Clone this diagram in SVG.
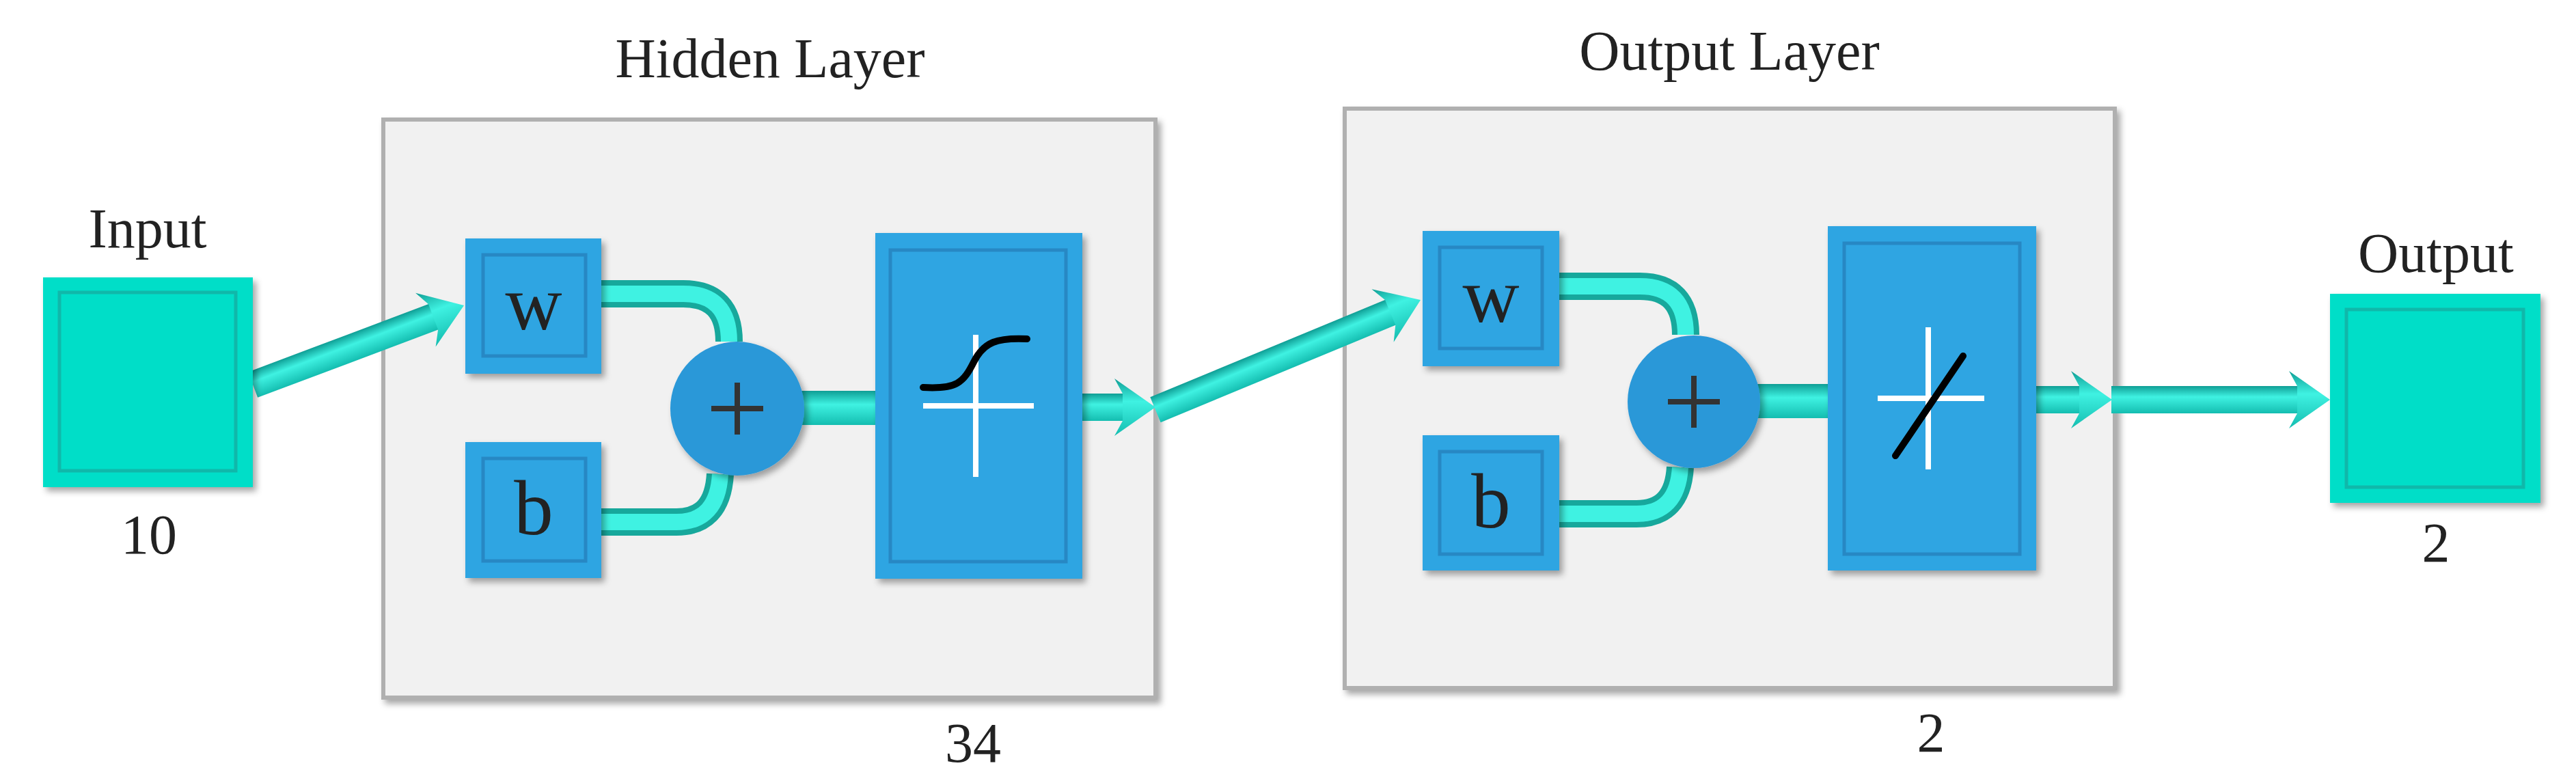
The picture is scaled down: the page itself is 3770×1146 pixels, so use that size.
<svg xmlns="http://www.w3.org/2000/svg" width="3770" height="1146" viewBox="0 0 3770 1146">
<defs>
<linearGradient id="shaft" x1="0" y1="0" x2="0" y2="1"><stop offset="0" stop-color="#0f9e95"/><stop offset="0.4" stop-color="#3ff2e2"/><stop offset="1" stop-color="#14bdb0"/></linearGradient>
<filter id="sh" x="-5%" y="-5%" width="115%" height="115%"><feDropShadow dx="5" dy="6" stdDeviation="5" flood-color="#000" flood-opacity="0.35"/></filter>
<polygon id="head" points="0,0 -60,-42 -48,-20 -48,20 -60,42"/>
</defs>
<style>
.layer{fill:#f1f1f1;stroke:#b0b0b0;stroke-width:6;filter:url(#sh)}
.blue{fill:#2fa5e2;filter:url(#sh)}
.inner{fill:#2fa5e2;stroke:#2788c4;stroke-width:5}
.teal{fill:#00dec8;filter:url(#sh)}
.tinner{fill:#00dec8;stroke:#10b8aa;stroke-width:5}
.lbl{font-family:"Liberation Serif",serif;font-size:82px;fill:#222;text-anchor:middle}
.glyph{font-family:"Liberation Serif",serif;font-size:115px;fill:#222;text-anchor:middle}
.arr{fill:url(#shaft)}
.cur{fill:none;stroke:#17a89c;stroke-width:40}
.cur2{fill:none;stroke:#3ff2e2;stroke-width:24}
.wx{stroke:#fff;stroke-width:8}
.bk{fill:none;stroke:#000;stroke-width:10;stroke-linecap:round}
</style>
<g id="hidden-layer">
<rect class="layer" x="561" y="175" width="1130" height="846"/>
<text class="lbl" x="1127" y="113">Hidden Layer</text>
<text class="lbl" x="1424" y="1115">34</text>
</g>
<g id="output-layer">
<rect class="layer" x="1968" y="159" width="1127" height="848"/>
<text class="lbl" x="2531" y="102">Output Layer</text>
<text class="lbl" x="2826" y="1100">2</text>
</g>
<g id="connectors">
<path class="cur" d="M880,430 H1000 Q1067,430 1067,500"/><path class="cur2" d="M880,430 H1000 Q1067,430 1067,500"/>
<path class="cur" d="M846,764 H990 Q1050,764 1054,694"/><path class="cur2" d="M846,764 H990 Q1050,764 1054,694"/>
<rect class="arr" x="1170" y="572" width="115" height="50"/>
<path class="cur" d="M2282,419 H2400 Q2467,419 2467,490"/><path class="cur2" d="M2282,419 H2400 Q2467,419 2467,490"/>
<path class="cur" d="M2282,752 H2395 Q2455,752 2459,684"/><path class="cur2" d="M2282,752 H2395 Q2455,752 2459,684"/>
<rect class="arr" x="2570" y="562" width="110" height="50"/>
<g transform="translate(679,447) rotate(-20.6)"><rect class="arr" x="-330" y="-20" width="285" height="40"/><use href="#head" class="arr"/></g>
<g transform="translate(1691,596)"><rect class="arr" x="-110" y="-20" width="65" height="40"/><use href="#head" class="arr"/></g>
<g transform="translate(2079,439) rotate(-22.5)"><rect class="arr" x="-420" y="-20" width="375" height="40"/><use href="#head" class="arr"/></g>
<g transform="translate(3091,585)"><rect class="arr" x="-112" y="-20" width="67" height="40"/><use href="#head" class="arr"/></g>
<g transform="translate(3410,585)"><rect class="arr" x="-320" y="-20" width="275" height="40"/><use href="#head" class="arr"/></g>
</g>
<g id="input">
<rect class="teal" x="63" y="406" width="307" height="307"/><rect class="tinner" x="87" y="428" width="258" height="261"/>
<text class="lbl" x="216" y="362">Input</text><text class="lbl" x="218" y="810">10</text>
</g>
<g id="output">
<rect class="teal" x="3410" y="430" width="308" height="306"/><rect class="tinner" x="3434" y="453" width="259" height="260"/>
<text class="lbl" x="3565" y="398">Output</text><text class="lbl" x="3565" y="822">2</text>
</g>
<g id="h-w"><rect class="blue" x="681" y="349" width="199" height="198"/><rect class="inner" x="707" y="373" width="150" height="148"/><text class="glyph" x="781" y="482">w</text></g>
<g id="h-b"><rect class="blue" x="681" y="647" width="199" height="199"/><rect class="inner" x="707" y="671" width="150" height="150"/><text class="glyph" x="781" y="782">b</text></g>
<g id="h-sum"><circle cx="1079" cy="598" r="98" fill="#2b98d8" filter="url(#sh)"/><path d="M1079,560 V636 M1041,598 H1117" stroke="#333" stroke-width="8"/></g>
<g id="h-tf"><rect class="blue" x="1281" y="341" width="303" height="506"/><rect class="inner" x="1303" y="366" width="257" height="456"/>
<path class="wx" d="M1428,490 V698 M1351,594 H1513"/><path class="bk" d="M1351,567 C1400,570 1410,560 1425,530 C1440,500 1460,494 1503,496"/></g>
<g id="o-w"><rect class="blue" x="2082" y="338" width="200" height="198"/><rect class="inner" x="2107" y="362" width="150" height="148"/><text class="glyph" x="2182" y="471">w</text></g>
<g id="o-b"><rect class="blue" x="2082" y="637" width="200" height="198"/><rect class="inner" x="2107" y="661" width="150" height="150"/><text class="glyph" x="2182" y="772">b</text></g>
<g id="o-sum"><circle cx="2479" cy="588" r="97" fill="#2b98d8" filter="url(#sh)"/><path d="M2479,550 V626 M2441,588 H2517" stroke="#333" stroke-width="8"/></g>
<g id="o-tf"><rect class="blue" x="2675" y="331" width="305" height="504"/><rect class="inner" x="2699" y="356" width="257" height="455"/>
<path class="wx" d="M2822,479 V687 M2748,583 H2904"/><path class="bk" d="M2774,667 L2873,521"/></g>
</svg>
